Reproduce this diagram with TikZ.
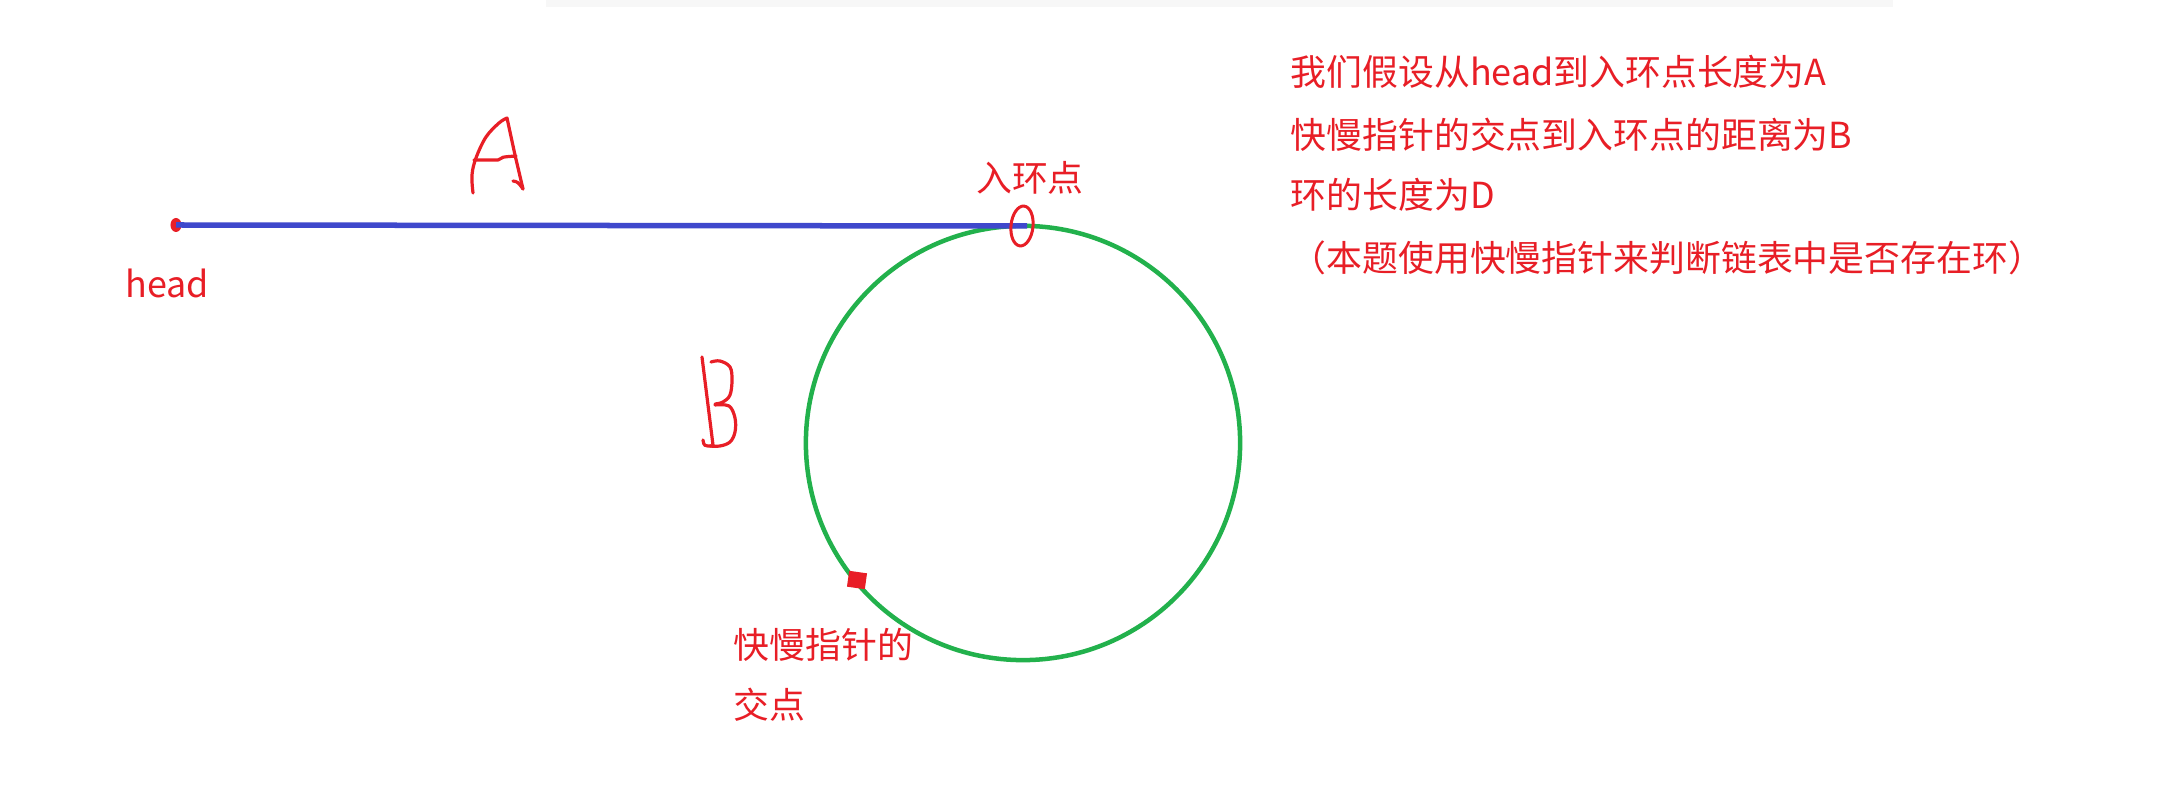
\documentclass[tikz,border=0pt]{standalone}
\usepackage{fontspec}
\setmainfont{Noto Sans CJK SC}
\usetikzlibrary{shapes.geometric}
\definecolor{pred}{RGB}{232,30,38}
\definecolor{pblue}{RGB}{63,72,204}
\definecolor{pgreen}{RGB}{34,177,76}
\tikzset{
  txt/.style={text=pred, inner sep=0pt, font=\fontsize{10.2pt}{12pt}\selectfont},
  hand/.style={draw=pred, line width=0.032cm, line cap=round, line join=round},
}
\begin{document}
\begin{tikzpicture}[x=0.01cm,y=-0.01cm]
\useasboundingbox (0,0) rectangle (2166,807);
\fill[white] (0,0) rectangle (2166,807);
\fill[black!3] (546,0) rectangle (1893,7);

% ring and entry
\node (ring) [circle, draw=pgreen, line width=0.045cm, minimum size=4.34cm, inner sep=0pt] at (1023,443) {};
\coordinate (entry) at (1027,226);
\node (head) [ellipse, fill=pred, minimum width=0.11cm, minimum height=0.14cm, inner sep=0pt] at (176,225) {};
\draw[pblue, line width=0.055cm] (head.center) -- (entry);
\node (zero) [ellipse, draw=pred, line width=0.03cm, minimum width=0.22cm, minimum height=0.40cm, inner sep=0pt, rotate=-6] at (1022,226) {};

% meeting point
\node (meet) [rectangle, fill=pred, minimum width=0.18cm, minimum height=0.16cm, inner sep=0pt, rotate=-8] at (857,580) {};

% labels
\node[txt] (headlbl) at (167,283) {head};
\node[txt] (entrylbl) at (1030,178) {入环点};
\node[txt, anchor=west] (meet1) at (733,645) {快慢指针的};
\node[txt, anchor=west] (meet2) at (733,705) {交点};

\node[txt, anchor=west] (l1) at (1290,72) {我们假设从head到入环点长度为A};
\node[txt, anchor=west] (l2) at (1290,135) {快慢指针的交点到入环点的距离为B};
\node[txt, anchor=west] (l3) at (1290,195) {环的长度为D};
\node[txt, anchor=west] (l4) at (1290,258) {（本题使用快慢指针来判断链表中是否存在环）};

% handwritten A
\draw[hand] plot[smooth, tension=0.6] coordinates {(473,193) (472,175) (476,158) (486,137) (499,123) (507,118)} -- (515,155) -- (523,189);
\draw[hand] (474,160) -- (498,160) .. controls (502,157) .. (516,156);
\draw[hand] (513,181) .. controls (518,182) .. (523,189);

% handwritten B
\draw[hand] (702,357) -- (713,445);
\draw[hand] (703,440) .. controls (704,446) .. (712,446);
\draw[hand] plot[smooth, tension=0.6] coordinates {(711,362) (720,361) (730,367) (732,380) (730,395) (723,402) (715,404)};
\draw[hand] plot[smooth, tension=0.6] coordinates {(715,405) (729,406) (735,418) (735,432) (730,442) (720,446) (710,446)};
\end{tikzpicture}
\end{document}
